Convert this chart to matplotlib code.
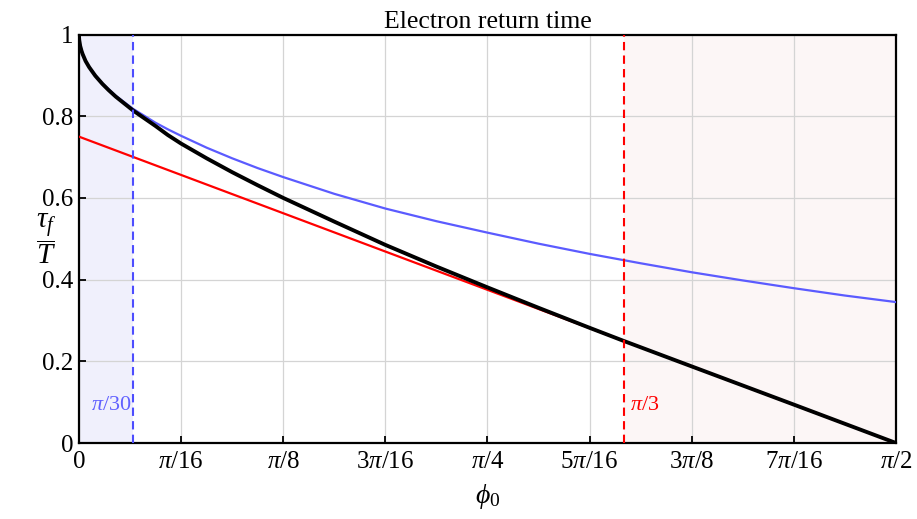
import numpy as np
import matplotlib
matplotlib.use("Agg")
import matplotlib.pyplot as plt

# ---- data (x in units of pi/16) ----
black_x = [0, 0.0005, 0.003, 0.012, 0.025, 0.036, 0.065, 0.10, 0.16, 0.23, 0.29, 0.36, 0.44,
           0.53, 0.64, 0.75, 0.87, 1.0, 1.25, 1.5, 1.75, 2.0, 2.5, 3.0, 3.5, 4.0, 4.5,
           5.0, 5.333, 6.0, 7.0, 8.0]
black_y = [1.0, 0.994, 0.986, 0.972, 0.960, 0.952, 0.935, 0.920, 0.899, 0.879, 0.864, 0.848, 0.832,
           0.814, 0.795, 0.776, 0.754, 0.733, 0.697, 0.663, 0.631, 0.600, 0.542, 0.485, 0.432, 0.381, 0.331,
           0.282, 0.250, 0.1875, 0.094, 0.0]

blue_x = [0, 0.0005, 0.003, 0.012, 0.036, 0.065, 0.10, 0.16, 0.23, 0.36, 0.53, 0.75, 0.87, 1.0,
          1.25, 1.5, 1.75, 2.0, 2.5, 3.0, 3.5, 4.0, 4.5, 5.0, 5.5, 6.0, 6.5, 7.0, 7.5, 8.0]
blue_y = [1.0, 0.994, 0.986, 0.973, 0.953, 0.936, 0.921, 0.900, 0.880, 0.850, 0.818, 0.784, 0.768, 0.752,
          0.723, 0.697, 0.673, 0.651, 0.610, 0.574, 0.543, 0.515, 0.488, 0.463, 0.440, 0.418, 0.398, 0.379,
          0.361, 0.345]

red_x = [0, 8.0]
red_y = [0.75, 0.0]

tick_pos = [0, 1, 2, 3, 4, 5, 6, 7, 8]
tick_labels = ["0", r"$\pi/16$", r"$\pi/8$", r"$3\pi/16$", r"$\pi/4$",
               r"$5\pi/16$", r"$3\pi/8$", r"$7\pi/16$", r"$\pi/2$"]
ytick_pos = [0, 0.2, 0.4, 0.6, 0.8, 1.0]
ytick_labels = ["0", "0.2", "0.4", "0.6", "0.8", "1"]

blue_lim = np.pi / 30
red_lim = np.pi / 3
unit = np.pi / 16

plt.rcParams['font.family'] = ['Liberation Serif', 'DejaVu Serif']
plt.rcParams['mathtext.fontset'] = 'custom'
plt.rcParams['mathtext.rm'] = 'Liberation Serif'
plt.rcParams['mathtext.it'] = 'Liberation Serif:italic'
plt.rcParams['mathtext.bf'] = 'Liberation Serif:bold'

fig = plt.figure(figsize=(9.17, 5.19), dpi=100)
ax = fig.add_axes([0.0861, 0.1464, 0.8910, 0.7871])

bx = np.array(black_x) * unit
ux = np.array(blue_x) * unit
rx = np.array(red_x) * unit

ax.axvspan(0, blue_lim, color='#f0f0fc', zorder=0, lw=0)
ax.axvspan(red_lim, np.pi / 2, color='#fcf6f6', zorder=0, lw=0)

ax.grid(True, color='#d4d4d4', lw=0.9, zorder=1)
ax.set_axisbelow(True)

ax.plot(ux, blue_y, color='#5b5bff', lw=1.6, zorder=3, solid_joinstyle='round')
ax.plot(rx, red_y, color='#ff0000', lw=1.6, zorder=3)
ax.plot(bx, black_y, color='black', lw=2.8, zorder=4, solid_capstyle='butt',
        solid_joinstyle='round')

ax.axvline(blue_lim, color='#4d4dff', ls=(0, (4, 2.5)), lw=1.5, zorder=5)
ax.axvline(red_lim, color='#ff0000', ls=(0, (4, 2.5)), lw=1.5, zorder=5)

ax.text(blue_lim - 0.004, 0.093, r"$\pi/30$", color='#6060ff', fontsize=16,
        ha='right', va='center')
ax.text(red_lim + 0.012, 0.093, r"$\pi/3$", color='#ff0000', fontsize=16,
        ha='left', va='center')

ax.set_xlim(0, np.pi / 2)
ax.set_ylim(0, 1)
ax.set_xticks(np.array(tick_pos) * unit)
ax.set_xticklabels(tick_labels, fontsize=18)
ax.set_yticks(ytick_pos)
ax.set_yticklabels(ytick_labels, fontsize=18)
ax.tick_params(direction='in', length=5, width=1.3, color='black')
ax.tick_params(axis='x', pad=6)
ax.tick_params(axis='y', pad=4)

for s in ax.spines.values():
    s.set_linewidth(1.6)
    s.set_color('black')

ax.set_title("Electron return time", fontsize=18.5, pad=5)
ax.set_xlabel(r"$\phi_0$", fontsize=20, labelpad=6)
ax.set_ylabel(r"$\dfrac{\tau_f}{T}$", fontsize=21, rotation=0, va='center', ha='center')
ax.yaxis.set_label_coords(-0.040, 0.50)

fig.savefig("out.png", dpi=100)
